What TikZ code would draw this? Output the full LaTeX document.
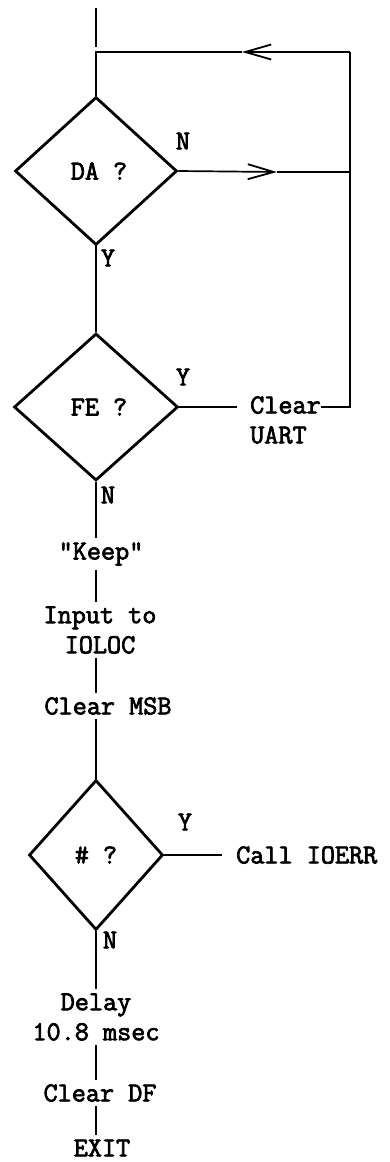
\documentclass[tikz,border=0pt]{standalone}
\usepackage{fontspec}
\newfontfamily\flowtt[FakeBold=2.6]{Latin Modern Mono}
\usetikzlibrary{shapes.geometric,arrows.meta}
\newcommand\flowfont{\flowtt\fontsize{27.4}{30}\selectfont}
\begin{document}
\begin{tikzpicture}[x=1pt,y=-1pt,
  flow/.style={line width=1.7pt},
  dec/.style={draw,diamond,line width=2.8pt,inner sep=0pt,aspect=1,font=\flowfont},
  txt/.style={font=\flowfont,inner xsep=0pt,inner ysep=4pt,align=center},
  lbl/.style={font=\flowfont,inner sep=0pt},
  barb/.style={-{Straight Barb[length=26pt,width=15pt,line width=1.8pt]}}]
\useasboundingbox (0,0) rectangle (390,1162);
% coordinates
\coordinate (start) at (96,8);
\coordinate (entry) at (96,47);
\coordinate (jtop) at (96,52);
\coordinate (jtr) at (350,52);
\coordinate (a1) at (242,52);
\coordinate (jmid) at (350,172);
\coordinate (a2) at (277,172);
\coordinate (jbot) at (350,407);
\coordinate (sp) at (96,0);
% decisions
\node[dec,minimum width=162pt,minimum height=148pt] (da) at (96,171) {\hspace*{6pt}DA ?};
\node[dec,minimum width=164pt,minimum height=147pt] (fe) at (96,407) {\hspace*{6pt}FE ?};
\node[dec,minimum width=134pt,minimum height=150pt] (hs) at (96,855) {\# ?};
% labels
\node[lbl] (n1) at (183,141) {N};
\node[lbl] (y1) at (108,258) {Y};
\node[lbl] (y2) at (183,377) {Y};
\node[lbl] (n2) at (108,495) {N};
\node[lbl] (y3) at (185,822) {Y};
\node[lbl] (n3) at (110,940) {N};
% process texts
\node[font=\flowfont,inner sep=0pt,align=left,anchor=west] (cu) at (250,420) {Clear\\UART};
\node[lbl,anchor=west] (call) at (236,855) {Call IOERR};
\node[txt] (keep) at (101,554) {"Keep"};
\node[txt] (inp) at (100,630) {Input to\\IOLOC};
\node[txt] (msb) at (108,706) {Clear MSB};
\node[txt] (delay) at (96,1017) {Delay\\10.8 msec};
\node[txt] (df) at (100,1093) {Clear DF};
\node[txt] (exit) at (102,1148) {EXIT};
% connectors
\draw[flow] (start) -- (entry);
\draw[flow,barb] (jtr) -- (a1);
\draw[flow] (a1) -- (jtop) -- (da.north);
\draw[flow,barb] (da.east) -- (a2);
\draw[flow] (a2) -- (jmid);
\draw[flow] (jtr) -- (jbot) -- (cu.east |- jbot);
\draw[flow] (da.south) -- (fe.north);
\draw[flow,shorten >=13pt] (fe.east) -- (fe.east -| cu.west);
\draw[flow] (fe.south) -- (fe.south |- keep.north);
\draw[flow] (keep.south -| sp) -- (inp.north -| sp);
\draw[flow] (inp.south -| sp) -- (msb.north -| sp);
\draw[flow] (msb.south -| sp) -- (hs.north);
\draw[flow,shorten >=14pt] (hs.east) -- (hs.east -| call.west);
\draw[flow] (hs.south) -- (hs.south |- delay.north);
\draw[flow] (delay.south -| sp) -- (df.north -| sp);
\draw[flow] (df.south -| sp) -- (exit.north -| sp);
\end{tikzpicture}
\end{document}
